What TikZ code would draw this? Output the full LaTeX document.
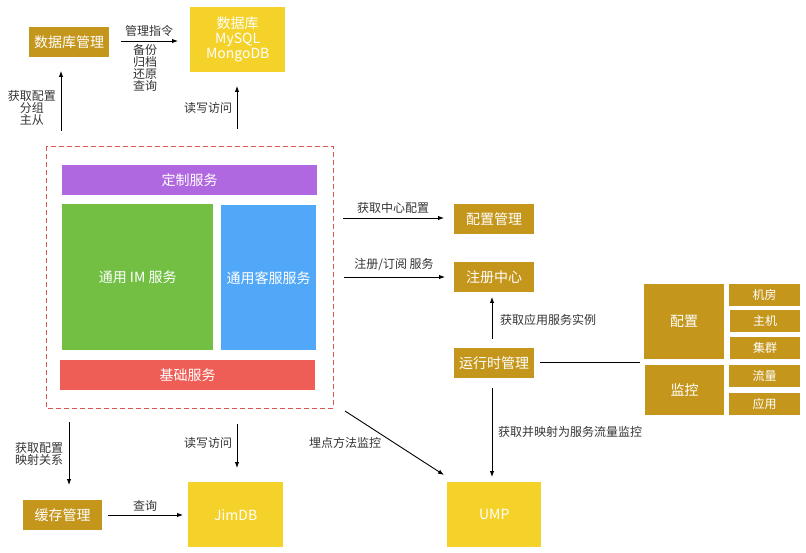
\documentclass[tikz,border=0pt]{standalone}
\usepackage{fontspec}
\setmainfont{Noto Sans CJK SC}
\usetikzlibrary{arrows.meta}
\definecolor{gold}{HTML}{C4961C}
\definecolor{yel}{HTML}{F5D22A}
\definecolor{purp}{HTML}{B068E0}
\definecolor{grn}{HTML}{72BF44}
\definecolor{blu}{HTML}{52A8F8}
\definecolor{redb}{HTML}{EE5E57}
\definecolor{dashred}{HTML}{D9534F}
\definecolor{txt}{HTML}{333333}
\tikzset{
  box/.style={anchor=north west, inner sep=0pt, draw=none, text=white, align=center, font=\fontsize{14}{15}\selectfont},
  gbox/.style={box, fill=gold},
  ybox/.style={box, fill=yel},
  sbox/.style={gbox, minimum height=22pt, font=\fontsize{12}{13}\selectfont},
  lbl/.style={inner sep=0pt, text=txt, align=center, font=\fontsize{12}{12}\selectfont},
  arr/.style={draw=black, line width=0.9pt, -{Latex[length=6pt,width=4.5pt]}},
  ln/.style={draw=black, line width=0.9pt},
}
\begin{document}
\begin{tikzpicture}[x=1pt,y=-1pt]
\useasboundingbox (0,0) rectangle (806,553);
% top
\node[gbox, minimum width=80pt, minimum height=30pt] (dbm) at (29,27) {数据库管理};
\node[ybox, minimum width=95pt, minimum height=65pt, font=\fontsize{14}{15}\selectfont] (db) at (190,7) {数据库\\MySQL\\MongoDB};
\coordinate (a1s) at (121,41); \coordinate (a1e) at (178,41);
\draw[arr] (a1s) -- (a1e);
\node[lbl] (l1) at (149,31) {管理指令};
\node[lbl] (l2) at (145,68) {备份\\归档\\还原\\查询};
\coordinate (a2s) at (61,131); \coordinate (a2e) at (61,71);
\draw[arr] (a2s) -- (a2e);
\node[lbl] (l3) at (32,108) {获取配置\\分组\\主从};
\coordinate (a3s) at (237,129); \coordinate (a3e) at (237,86);
\draw[arr] (a3s) -- (a3e);
\node[lbl] (l4) at (208,108) {读写访问};
% dashed container
\draw[draw=dashred, line width=0.8pt, dash pattern=on 5pt off 3pt] (46,146) rectangle (333,408);
\node[box, fill=purp, minimum width=255pt, minimum height=30pt] (cust) at (62,165) {定制服务};
\node[box, fill=grn, minimum width=151pt, minimum height=146pt] (im) at (62,204) {通用 IM 服务};
\node[box, fill=blu, minimum width=95pt, minimum height=145pt] (kf) at (221,205) {通用客服服务};
\node[box, fill=redb, minimum width=255pt, minimum height=30pt] (base) at (60,360) {基础服务};
% right
\node[gbox, minimum width=80pt, minimum height=30pt] (cfg) at (454,204) {配置管理};
\node[gbox, minimum width=80pt, minimum height=30pt] (reg) at (454,262) {注册中心};
\node[gbox, minimum width=80pt, minimum height=30pt] (rt) at (454,348) {运行时管理};
\coordinate (b1s) at (343,218); \coordinate (b1e) at (444,218);
\draw[arr] (b1s) -- (b1e);
\node[lbl] (l5) at (393,208) {获取中心配置};
\coordinate (b2s) at (344,277); \coordinate (b2e) at (445,277);
\draw[arr] (b2s) -- (b2e);
\node[lbl] (l6) at (394,265) {注册/订阅 服务};
\coordinate (b3s) at (492,339); \coordinate (b3e) at (492,297);
\draw[arr] (b3s) -- (b3e);
\node[lbl, anchor=west] (l7) at (500,320) {获取应用服务实例};
\coordinate (b4s) at (540,362); \coordinate (b4e) at (640,362);
\draw[ln] (b4s) -- (b4e);
\node[gbox, minimum width=80pt, minimum height=75pt] (pz) at (644,284) {配置};
\node[gbox, minimum width=79pt, minimum height=50pt] (jk) at (645,365) {监控};
\node[sbox, minimum width=71pt] (s1) at (729,284) {机房};
\node[sbox, minimum width=70pt] (s2) at (730,310) {主机};
\node[sbox, minimum width=70pt] (s3) at (730,337) {集群};
\node[sbox, minimum width=71pt] (s4) at (729,365) {流量};
\node[sbox, minimum width=71pt] (s5) at (729,393) {应用};
\coordinate (b5s) at (492,388); \coordinate (b5e) at (492,477);
\draw[arr] (b5s) -- (b5e);
\node[lbl, anchor=west] (l8) at (498,432) {获取并映射为服务流量监控};
% bottom
\node[ybox, minimum width=94pt, minimum height=65pt] (ump) at (447,482) {UMP};
\node[ybox, minimum width=95pt, minimum height=65pt] (jim) at (188,482) {JimDB};
\node[gbox, minimum width=79pt, minimum height=30pt] (cache) at (23,500) {缓存管理};
\coordinate (c1s) at (345,411); \coordinate (c1e) at (444,475);
\draw[arr] (c1s) -- (c1e);
\node[lbl] (l9) at (345,443) {埋点方法监控};
\coordinate (c2s) at (69,422); \coordinate (c2e) at (69,485);
\draw[arr] (c2s) -- (c2e);
\node[lbl] (l10) at (39,454) {获取配置\\映射关系};
\coordinate (c3s) at (237,424); \coordinate (c3e) at (237,468);
\draw[arr] (c3s) -- (c3e);
\node[lbl] (l11) at (208,443) {读写访问};
\coordinate (c4s) at (108,515); \coordinate (c4e) at (183,515);
\draw[arr] (c4s) -- (c4e);
\node[lbl] (l12) at (145,506) {查询};
\end{tikzpicture}
\end{document}
